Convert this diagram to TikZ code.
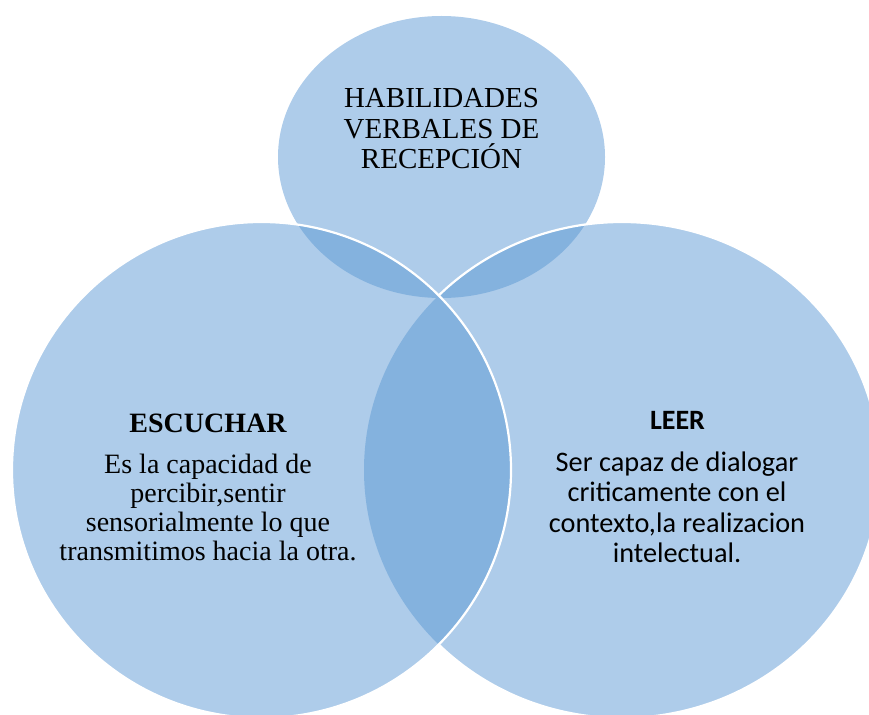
\documentclass[tikz,border=0pt]{standalone}
\usepackage{fontspec}
\setmainfont{Liberation Serif}
\newfontfamily\calibri{Carlito}
\definecolor{lightblue}{RGB}{174,204,234}
\definecolor{darkblue}{RGB}{132,178,222}
\begin{document}
\begin{tikzpicture}[x=1pt,y=-1pt,
  whiteline/.style={draw=white,line width=2.2pt},
  txt/.style={inner sep=0pt,align=center,anchor=base,text=black}]
\useasboundingbox (0,0) rectangle (869,714);
\begin{scope}
\clip (0,0) rectangle (869,714);
% top ellipse
\fill[lightblue] (441.5,157) ellipse [x radius=163.5pt, y radius=141pt];
% right circle
\fill[lightblue] (622,470) ellipse [x radius=258pt, y radius=248pt];
\begin{scope}
  \clip (622,470) ellipse [x radius=258pt, y radius=248pt];
  \fill[darkblue] (441.5,157) ellipse [x radius=163.5pt, y radius=141pt];
\end{scope}
\draw[whiteline] (622,470) ellipse [x radius=258pt, y radius=248pt];
% left circle
\fill[lightblue] (261.5,470) ellipse [x radius=249.5pt, y radius=248pt];
\begin{scope}
  \clip (261.5,470) ellipse [x radius=249.5pt, y radius=248pt];
  \fill[darkblue] (441.5,157) ellipse [x radius=163.5pt, y radius=141pt];
  \fill[darkblue] (622,470) ellipse [x radius=258pt, y radius=248pt];
\end{scope}
\draw[whiteline] (261.5,470) ellipse [x radius=249.5pt, y radius=248pt];
\end{scope}
% texts (base anchor = baseline of last line)
\node[txt,font=\fontsize{29}{30}\selectfont] (titulo) at (441.5,168)
  {HABILIDADES\\VERBALES DE\\RECEPCIÓN};
\node[txt,font=\bfseries\fontsize{28}{29}\selectfont] (escuchar) at (208,432) {ESCUCHAR};
\node[txt,font=\fontsize{28}{29}\selectfont] (escdesc) at (208,560)
  {Es la capacidad de\\percibir,sentir\\sensorialmente lo que\\transmitimos hacia la otra.};
\node[txt,font=\calibri\bfseries\fontsize{28}{30}\selectfont] (leer) at (677.5,429) {LEER};
\node[txt,font=\calibri\fontsize{28.3}{30.3}\selectfont] (leerdesc) at (677,562.5)
  {Ser capaz de dialogar\\criticamente con el\\contexto,la realizacion\\intelectual.};
\end{tikzpicture}
\end{document}
